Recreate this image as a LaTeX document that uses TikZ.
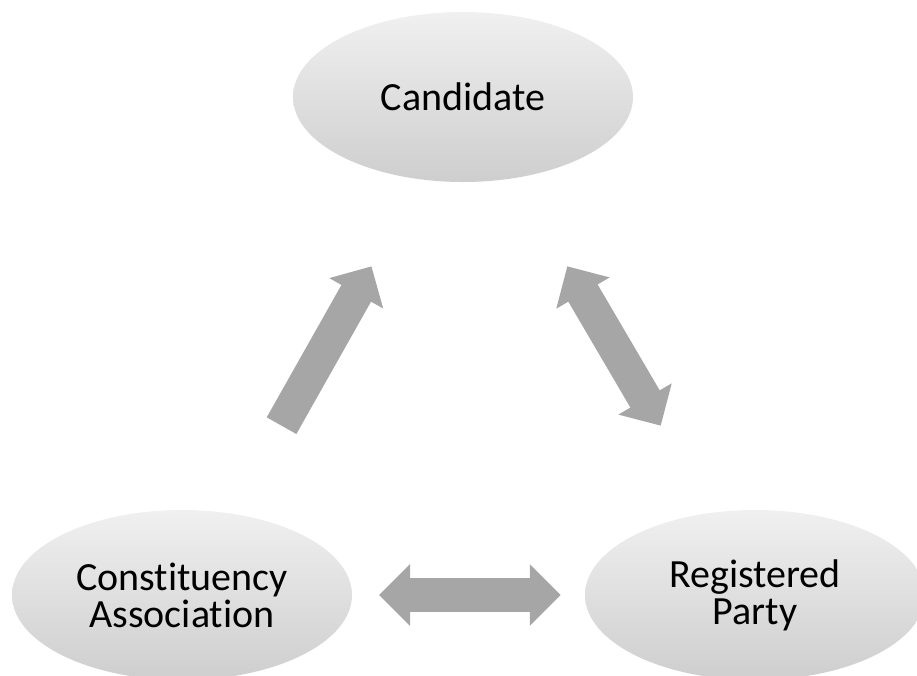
\documentclass[tikz,border=0pt]{standalone}
\usepackage{fontspec}
\setmainfont{Carlito}[Ligatures=NoCommon]
\usetikzlibrary{arrows.meta,calc,shapes.geometric}
\definecolor{ovaltop}{RGB}{240,240,240}
\definecolor{ovalbottom}{RGB}{206,206,206}
\definecolor{arrowgray}{RGB}{166,166,166}
\tikzset{
  oval/.style={ellipse, minimum width=340pt, minimum height=170pt,
    top color=ovaltop, bottom color=ovalbottom, draw=none,
    align=center, font=\fontsize{40}{37}\selectfont, inner sep=0pt},
  onearrow/.style={draw=arrowgray, line width=34pt, -{Triangle[width=60pt,length=31pt]}},
  twoarrow/.style={draw=arrowgray, line width=34pt,
    {Triangle[width=60pt,length=31pt]}-{Triangle[width=60pt,length=31pt]}}
}
\begin{document}
\begin{tikzpicture}[x=1pt,y=-1pt]
  \useasboundingbox (0,0) rectangle (917,675);
  % the three parties
  \node[oval] (cand) at (463,97) {Candidate};
  \node[oval] (ca) at (182,595) {Constituency\\Association};
  \node[oval] (rp) at (755,595) {Registered\\Party};
  % relations between them
  \draw[onearrow] ($(ca.center)!0.34!(cand.center)+(4,0)$) -- ($(ca.center)!0.66!(cand.center)+(4,0)$);
  \draw[twoarrow] ($(cand.center)!0.34!(rp.center)+(5,0)$) -- ($(cand.center)!0.66!(rp.center)+(5,0)$);
  \draw[twoarrow] ($(ca.center)!0.344!(rp.center)$) -- ($(ca.center)!0.661!(rp.center)$);
\end{tikzpicture}
\end{document}
